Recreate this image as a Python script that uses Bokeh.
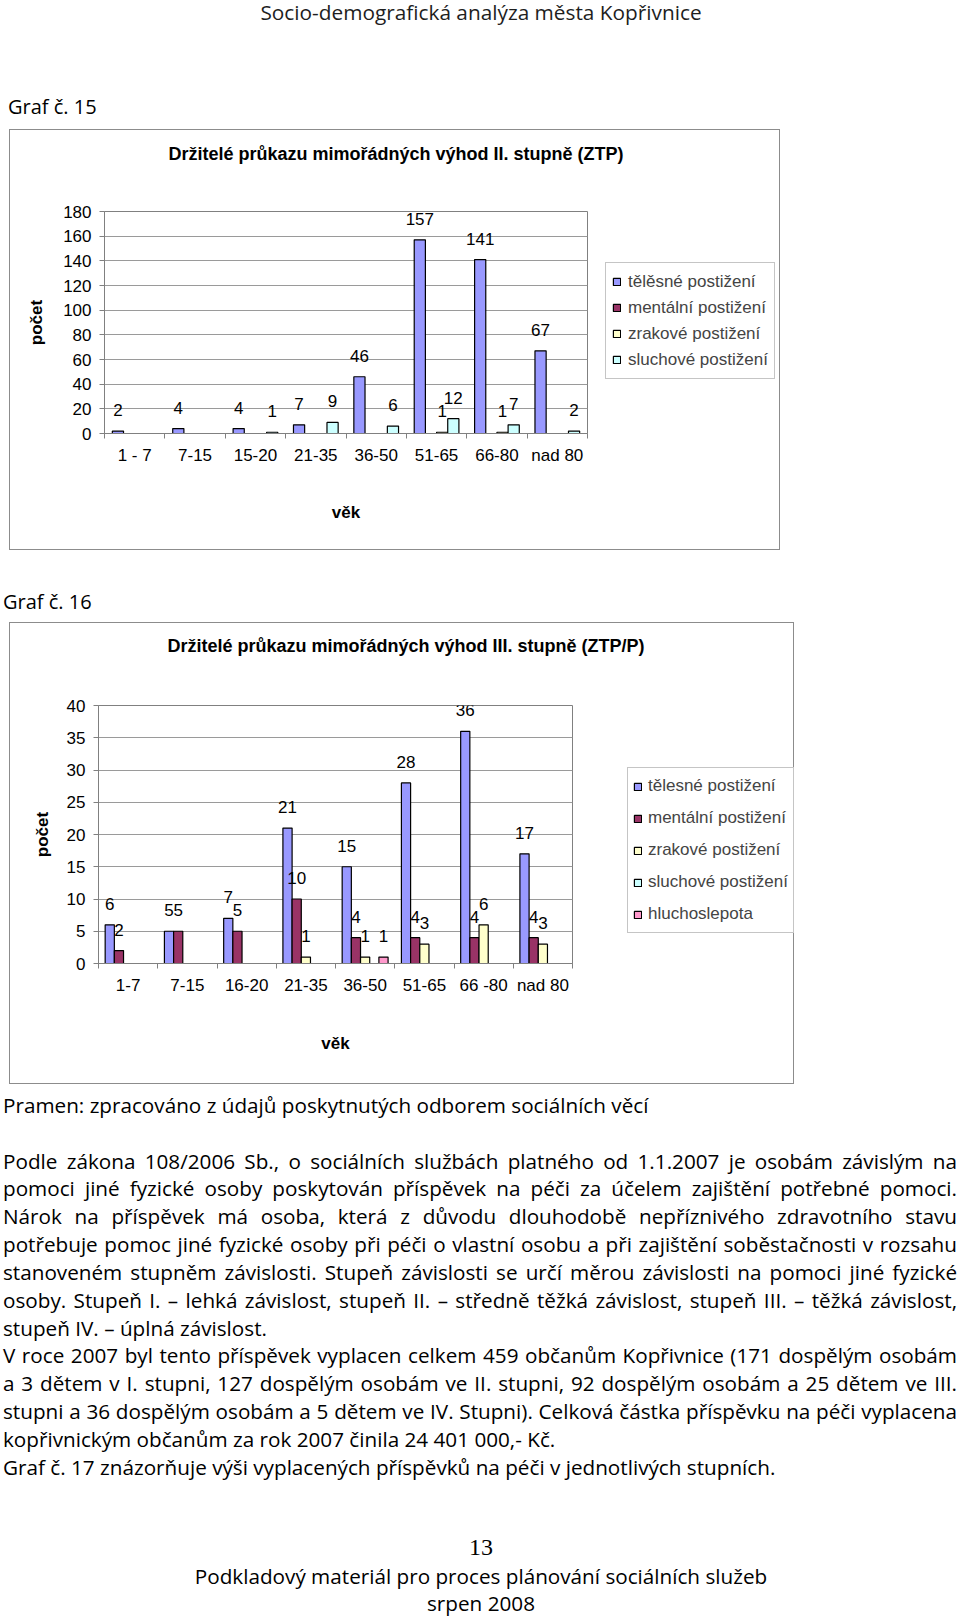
from bokeh.plotting import figure
from bokeh.models import (ColumnDataSource, FixedTicker, Legend, LegendItem, Div, Range1d,
                          LabelSet, Title)
from bokeh.layouts import column
from bokeh.embed import file_html
from bokeh.resources import INLINE
from bokeh.core.properties import value

# ---------------- Graf č. 15 ----------------
title1 = "Držitelé průkazu mimořádných výhod II. stupně (ZTP)"
categories1 = ["1 - 7", "7-15", "15-20", "21-35", "36-50", "51-65", "66-80", "nad 80"]
telesne1 = [2, 4, 4, 7, 46, 157, 141, 67]
mentalni1 = [0, 0, 0, 0, 0, 0, 0, 0]
zrakove1 = [0, 0, 0, 0, 0, 1, 1, 0]
sluchove1 = [0, 0, 1, 9, 6, 12, 7, 2]
names1 = ["tělěsné postižení", "mentální postižení", "zrakové postižení", "sluchové postižení"]
yticks1 = [0, 20, 40, 60, 80, 100, 120, 140, 160, 180]

# ---------------- Graf č. 16 ----------------
title2 = "Držitelé průkazu mimořádných výhod III. stupně (ZTP/P)"
categories2 = ["1-7", "7-15", "16-20", "21-35", "36-50", "51-65", "66 -80", "nad 80"]
telesne2 = [6, 5, 7, 21, 15, 28, 36, 17]
mentalni2 = [2, 5, 5, 10, 4, 4, 4, 4]
zrakove2 = [0, 0, 0, 1, 1, 3, 6, 3]
sluchove2 = [0, 0, 0, 0, 0, 0, 0, 0]
hluchoslepota2 = [0, 0, 0, 0, 1, 0, 0, 0]
names2 = ["tělesné postižení", "mentální postižení", "zrakové postižení", "sluchové postižení", "hluchoslepota"]
yticks2 = [0, 5, 10, 15, 20, 25, 30, 35, 40]

colors = ["#9999FF", "#993366", "#FFFFCC", "#CCFFFF", "#FF99CC"]

header_text = "Socio-demografická analýza města Kopřivnice"
source_text = "Pramen: zpracováno z údajů poskytnutých odborem sociálních věcí"
para_lines = [
    ("Podle zákona 108/2006 Sb., o sociálních službách platného od 1.1.2007 je osobám závislým na", True),
    ("pomoci jiné fyzické osoby poskytován příspěvek na péči za účelem zajištění potřebné pomoci.", True),
    ("Nárok na příspěvek má osoba, která z důvodu dlouhodobě nepříznivého zdravotního stavu", True),
    ("potřebuje pomoc jiné fyzické osoby při péči o vlastní osobu a při zajištění soběstačnosti v rozsahu", True),
    ("stanoveném stupněm závislosti. Stupeň závislosti se určí měrou závislosti na pomoci jiné fyzické", True),
    ("osoby. Stupeň I. – lehká závislost, stupeň II. – středně těžká závislost, stupeň III. – těžká závislost,", True),
    ("stupeň IV. – úplná závislost.", False),
    ("V roce 2007 byl tento příspěvek vyplacen celkem 459 občanům Kopřivnice  (171 dospělým osobám", True),
    ("a 3 dětem v I. stupni, 127 dospělým osobám ve II. stupni, 92 dospělým osobám a 25 dětem ve III.", True),
    ("stupni a 36 dospělým osobám a 5 dětem ve IV. Stupni). Celková částka příspěvku na péči vyplacena", True),
    ("kopřivnickým občanům za rok 2007 činila 24 401 000,- Kč.", False),
    ("Graf č. 17 znázorňuje výši vyplacených příspěvků na péči v jednotlivých stupních.", False),
]
page_no = "13"
footer1 = "Podkladový materiál pro proces plánování sociálních služeb"
footer2 = "srpen 2008"

FONT = "Liberation Sans"
GRAY = "#8c8c8c"


def box_styles(x0, width, height):
    # outer chart frame drawn as four 1px background lines on the plot's host element
    g = "linear-gradient(%s,%s)" % (GRAY, GRAY)
    return {
        "background-image": ", ".join([g] * 4),
        "background-size": "%dpx 1px, %dpx 1px, 1px %dpx, 1px %dpx" % (width, width, height, height),
        "background-position": "%dpx 0px, %dpx %dpx, %dpx 0px, %dpx 0px"
                               % (x0, x0, height - 1, x0, x0 + width - 1),
        "background-repeat": "no-repeat",
    }


def bar_chart(title, cats, series, names, yticks, frame_w, frame_h, borders, bar_w,
              legend_loc, legend_lh, legend_sp, legend_pad, legend_standoff,
              title_offset, title_gap, ylab_standoff, xlab_standoff, xtick_standoff,
              margin_left, box_x0, box_w):
    left, right, top, bottom = borders
    ncat = len(cats)
    W = left + frame_w + right
    H = top + frame_h + bottom
    p = figure(width=W, height=H, frame_width=frame_w, frame_height=frame_h, title=None,
               x_range=Range1d(0, ncat), y_range=Range1d(0, yticks[-1]),
               output_backend="svg", toolbar_location=None,
               min_border_left=left, min_border_right=right,
               min_border_top=top, min_border_bottom=bottom)
    p.styles = box_styles(box_x0, box_w, H)
    p.margin = (0, 0, 0, margin_left)
    p.border_fill_color = None
    p.background_fill_color = "white"
    p.outline_line_color = "#808080"
    p.xgrid.grid_line_color = None
    p.ygrid.grid_line_color = "#9a9a9a"

    n = len(series)
    items = []
    srcs = []
    for k, (vals, name) in enumerate(zip(series, names)):
        off = (k - (n - 1) / 2) * bar_w
        # visible bars: only non-zero values (Excel draws nothing for zeros)
        xs = [i + 0.5 + off for i, v in enumerate(vals) if v]
        ys = [v for v in vals if v]
        src = ColumnDataSource(dict(x=xs, top=ys, label=[str(v) for v in ys]))
        p.vbar(x="x", top="top", bottom=0, width=bar_w, source=src,
               fill_color=colors[k], line_color="black", line_width=1.2)
        # hidden full-series renderer used for the legend swatch
        full = ColumnDataSource(dict(x=[i + 0.5 + off for i in range(ncat)], top=list(vals)))
        rl = p.vbar(x="x", top="top", bottom=0, width=bar_w, source=full,
                    fill_color=colors[k], line_color="black", line_width=1.2)
        rl.visible = False
        items.append(LegendItem(label=name, renderers=[rl]))
        srcs.append(src)
    for src in srcs:
        p.add_layout(LabelSet(x="x", y="top", text="label", source=src, text_align="center",
                              text_baseline="middle", y_offset=21, text_font=value(FONT),
                              text_font_size=value("17px"), text_color=value("black")))

    # chart title: spacer title nearest the frame, real title above it
    p.add_layout(Title(text=" ", text_font=FONT, text_font_size="18px", standoff=title_gap), "above")
    p.add_layout(Title(text=title, align="left", offset=title_offset, standoff=0,
                       text_font=FONT, text_font_size="18px", text_font_style="bold",
                       text_color="black"), "above")

    xa = p.xaxis[0]
    xa.ticker = FixedTicker(ticks=[i + 0.5 for i in range(ncat)],
                            minor_ticks=list(range(ncat + 1)))
    xa.major_label_overrides = {i + 0.5: c for i, c in enumerate(cats)}
    xa.major_tick_line_color = None
    xa.major_tick_in = 0
    xa.major_tick_out = 0
    xa.minor_tick_in = 0
    xa.minor_tick_out = 5
    xa.minor_tick_line_color = "#808080"
    xa.axis_line_color = "#808080"
    xa.major_label_text_font = FONT
    xa.major_label_text_font_size = "17px"
    xa.major_label_text_color = "black"
    xa.major_label_standoff = xtick_standoff
    xa.axis_label = "věk"
    xa.axis_label_text_font = FONT
    xa.axis_label_text_font_size = "17px"
    xa.axis_label_text_font_style = "bold"
    xa.axis_label_text_color = "black"
    xa.axis_label_standoff = xlab_standoff

    ya = p.yaxis[0]
    ya.ticker = FixedTicker(ticks=yticks)
    ya.major_tick_in = 0
    ya.major_tick_out = 5
    ya.major_tick_line_color = "#808080"
    ya.minor_tick_line_color = None
    ya.axis_line_color = "#808080"
    ya.major_label_text_font = FONT
    ya.major_label_text_font_size = "17px"
    ya.major_label_text_color = "black"
    ya.major_label_standoff = 8
    ya.axis_label = "počet"
    ya.axis_label_text_font = FONT
    ya.axis_label_text_font_size = "17px"
    ya.axis_label_text_font_style = "bold"
    ya.axis_label_text_color = "black"
    ya.axis_label_standoff = ylab_standoff

    legend = Legend(items=items, location=legend_loc, margin=0, padding=legend_pad,
                    spacing=legend_sp, label_height=legend_lh, glyph_width=9, glyph_height=9,
                    label_standoff=legend_standoff, label_text_font=FONT,
                    label_text_font_size="17px",
                    border_line_color=GRAY, border_line_width=1,
                    background_fill_color="white", background_fill_alpha=1.0,
                    inactive_fill_alpha=0.0)
    p.add_layout(legend, "right")
    return p


p1 = bar_chart(title1, categories1, [telesne1, mentalni1, zrakove1, sluchove1], names1, yticks1,
               frame_w=483, frame_h=222, borders=(95, 193, 82, 117), bar_w=0.185,
               legend_loc=(18, 54), legend_lh=25, legend_sp=1, legend_pad=6, legend_standoff=7,
               title_offset=64, title_gap=26, ylab_standoff=14, xlab_standoff=35,
               xtick_standoff=7, margin_left=9, box_x0=0, box_w=771)
p2 = bar_chart(title2, categories2, [telesne2, mentalni2, zrakove2, sluchove2, hluchoslepota2],
               names2, yticks2,
               frame_w=474, frame_h=258, borders=(95, 221, 83, 121), bar_w=0.155,
               legend_loc=(55, 30), legend_lh=26, legend_sp=6, legend_pad=5, legend_standoff=6,
               title_offset=69, title_gap=28, ylab_standoff=12, xlab_standoff=36,
               xtick_standoff=7, margin_left=3, box_x0=6, box_w=785)


def line(text, left, top, size=20.7, extra="", family="'Open Sans'"):
    return ('<div style="position:absolute;left:%spx;top:%spx;font-family:%s;font-size:%spx;'
            'line-height:28px;%s">%s</div>' % (left, top, family, size, extra, text))


htmlA = ('<div style="position:relative;width:960px;height:129px;color:black;">'
         + '<div style="position:absolute;left:0px;top:0px;width:962px;text-align:center;'
           'font-family:\'Open Sans\';font-size:20.8px;line-height:24px;color:#1e1e1e;'
           'white-space:nowrap;">' + header_text + '</div>'
         + line("Graf č. 15", 8, 92.5, 20, "white-space:nowrap;")
         + '</div>')
divA = Div(text=htmlA, width=960, height=129, margin=(0, 0, 0, 0))

htmlB = ('<div style="position:relative;width:960px;height:72px;color:black;">'
         + line("Graf č. 16", 3, 37.5, 20, "white-space:nowrap;")
         + '</div>')
divB = Div(text=htmlB, width=960, height=72, margin=(0, 0, 0, 0))

parts = ['<div style="position:relative;width:960px;height:533px;overflow:hidden;color:black;">']
parts.append(line(source_text, 3, 6.5, 20.7, "white-space:nowrap;"))
for i, (t, just) in enumerate(para_lines):
    top = round(62.5 + 27.84 * i, 1)
    if just:
        extra = "width:954px;text-align:justify;text-align-last:justify;word-spacing:-3px;"
    else:
        extra = "white-space:nowrap;"
    parts.append(line(t, 3, top, 20.7, extra))
parts.append(line(page_no, 0, 449, 24, "width:962px;text-align:center;", "'Liberation Serif'"))
parts.append(line(footer1, 0, 477.5, 20.7, "width:962px;text-align:center;white-space:nowrap;"))
parts.append(line(footer2, 0, 504.5, 20.7, "width:962px;text-align:center;white-space:nowrap;"))
parts.append('</div>')
divC = Div(text="".join(parts), width=960, height=533, margin=(0, 0, 0, 0))

layout = column(divA, p1, divB, p2, divC, spacing=0)

open("out.html", "w").write(file_html(layout, INLINE))
